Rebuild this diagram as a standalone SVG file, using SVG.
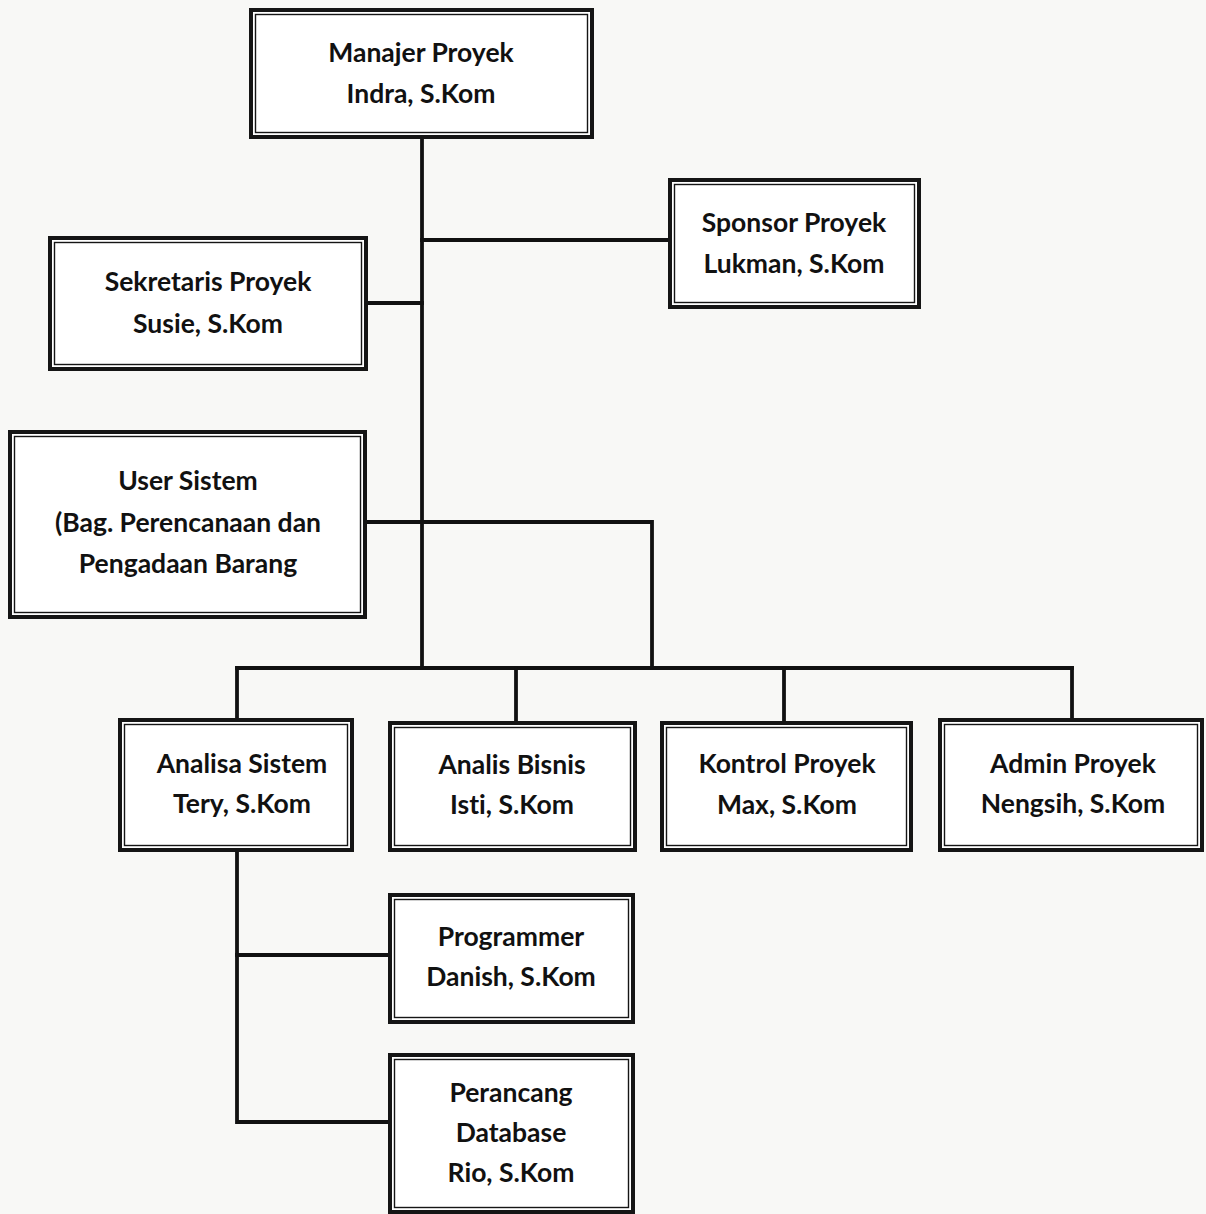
<svg xmlns="http://www.w3.org/2000/svg" width="1206" height="1214" viewBox="0 0 1206 1214">
<style>
.bo{fill:#fff;stroke:#151515;stroke-width:4}
.bi{fill:none;stroke:#151515;stroke-width:1.4}
.t{font-family:Lato,"Open Sans",sans-serif;font-weight:bold;font-size:26.5px;fill:#111;text-anchor:middle;font-variant-ligatures:none}
.c{stroke:#111;stroke-width:3.8;fill:none;stroke-linecap:square}
</style>
<rect x="0" y="0" width="1206" height="1214" fill="#f8f8f6"/>
<g id="connectors">
<path class="c" d="M422 137 V668"/>
<path class="c" d="M422 240 H670"/>
<path class="c" d="M366 303 H422"/>
<path class="c" d="M365 522 H652 V668"/>
<path class="c" d="M237 668 H1072"/>
<path class="c" d="M237 668 V720"/>
<path class="c" d="M516 668 V723"/>
<path class="c" d="M784 668 V723"/>
<path class="c" d="M1072 668 V720"/>
<path class="c" d="M237 850 V1122 H390"/>
<path class="c" d="M237 955 H390"/>
</g>
<g id="manajer">
<rect class="bo" x="251" y="10" width="341" height="127"/><rect class="bi" x="255.5" y="14.5" width="332" height="118"/>
<text class="t" x="421" y="62">Manajer Proyek</text><text class="t" x="421" y="103">Indra, S.Kom</text>
</g>
<g id="sponsor">
<rect class="bo" x="670" y="180" width="249" height="127"/><rect class="bi" x="674.5" y="184.5" width="240" height="118"/>
<text class="t" x="794" y="232">Sponsor Proyek</text><text class="t" x="794" y="273">Lukman, S.Kom</text>
</g>
<g id="sekretaris">
<rect class="bo" x="50" y="238" width="316" height="131"/><rect class="bi" x="54.5" y="242.5" width="307" height="122"/>
<text class="t" x="208" y="291">Sekretaris Proyek</text><text class="t" x="208" y="333">Susie, S.Kom</text>
</g>
<g id="user">
<rect class="bo" x="10" y="432" width="355" height="185"/><rect class="bi" x="14.5" y="436.5" width="346" height="176"/>
<text class="t" x="188" y="490">User Sistem</text><text class="t" x="188" y="532">(Bag. Perencanaan dan</text><text class="t" x="188" y="573">Pengadaan Barang</text>
</g>
<g id="analisa">
<rect class="bo" x="120" y="720" width="232" height="130"/><rect class="bi" x="124.5" y="724.5" width="223" height="121"/>
<text class="t" x="242" y="773">Analisa Sistem</text><text class="t" x="242" y="813">Tery, S.Kom</text>
</g>
<g id="bisnis">
<rect class="bo" x="390" y="723" width="245" height="127"/><rect class="bi" x="394.5" y="727.5" width="236" height="118"/>
<text class="t" x="512" y="774">Analis Bisnis</text><text class="t" x="512" y="814">Isti, S.Kom</text>
</g>
<g id="kontrol">
<rect class="bo" x="662" y="723" width="249" height="127"/><rect class="bi" x="666.5" y="727.5" width="240" height="118"/>
<text class="t" x="787" y="773">Kontrol Proyek</text><text class="t" x="787" y="814">Max, S.Kom</text>
</g>
<g id="admin">
<rect class="bo" x="940" y="720" width="262" height="130"/><rect class="bi" x="944.5" y="724.5" width="253" height="121"/>
<text class="t" x="1073" y="773">Admin Proyek</text><text class="t" x="1073" y="813">Nengsih, S.Kom</text>
</g>
<g id="programmer">
<rect class="bo" x="390" y="895" width="243" height="127"/><rect class="bi" x="394.5" y="899.5" width="234" height="118"/>
<text class="t" x="511" y="946">Programmer</text><text class="t" x="511" y="986">Danish, S.Kom</text>
</g>
<g id="perancang">
<rect class="bo" x="390" y="1055" width="243" height="157"/><rect class="bi" x="394.5" y="1059.5" width="234" height="148"/>
<text class="t" x="511" y="1102">Perancang</text><text class="t" x="511" y="1142">Database</text><text class="t" x="511" y="1182">Rio, S.Kom</text>
</g>
</svg>
